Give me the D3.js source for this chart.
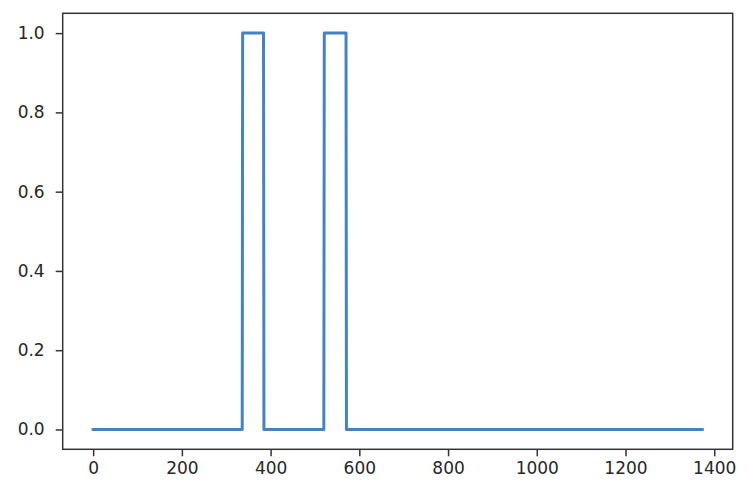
<!DOCTYPE html>
<html>
<head>
<meta charset="utf-8">
<script src="https://cdn.jsdelivr.net/npm/d3@7"></script>
<style>
  html, body { margin: 0; padding: 0; background: #fff; }
  svg { display: block; }
  .tick text { font-family: "DejaVu Sans", sans-serif; }
</style>
</head>
<body>
<svg id="chart" width="754" height="492"></svg>
<script>
// Data: sample index and binary signal value (step transitions)
const xValues = [0, 336, 337, 384, 385, 520, 521, 570, 571, 1373];
const yValues = [0, 0, 1, 1, 0, 0, 1, 1, 0, 0];
const xTicks = [0, 200, 400, 600, 800, 1000, 1200, 1400];
const yTicks = [0.0, 0.2, 0.4, 0.6, 0.8, 1.0];

const W = 754, H = 492;
const margin = { left: 62.7, right: W - 732.7, top: 13.3, bottom: H - 449.3 };
const svg = d3.select("#chart");

const xMin = d3.min(xValues), xMax = d3.max(xValues);
const yMin = d3.min(yValues), yMax = d3.max(yValues);
const xPad = (xMax - xMin) * 0.05, yPad = (yMax - yMin) * 0.05;

const x = d3.scaleLinear().domain([xMin - xPad, xMax + xPad]).range([margin.left, W - margin.right]);
const y = d3.scaleLinear().domain([yMin - yPad, yMax + yPad]).range([H - margin.bottom, margin.top]);

const data = xValues.map((v, i) => [v, yValues[i]]);

// line
svg.append("path")
  .datum(data)
  .attr("fill", "none")
  .attr("stroke", "#4582c0")
  .attr("stroke-width", 3)
  .attr("stroke-linejoin", "round")
  .attr("stroke-linecap", "square")
  .attr("d", d3.line().x(d => x(d[0])).y(d => y(d[1])));

// axes
const xAxis = d3.axisBottom(x).tickValues(xTicks).tickFormat(d3.format("d")).tickSize(7).tickPadding(6);
const yAxis = d3.axisLeft(y).tickValues(yTicks).tickFormat(d3.format(".1f")).tickSize(7).tickPadding(11);

const gx = svg.append("g").attr("transform", `translate(0,${H - margin.bottom})`).call(xAxis);
const gy = svg.append("g").attr("transform", `translate(${margin.left},0)`).call(yAxis);
[gx, gy].forEach(g => {
  g.select(".domain").remove();
  g.selectAll(".tick line").attr("stroke", "#333").attr("stroke-width", 1.5);
  g.selectAll(".tick text").attr("fill", "#262626").style("font-size", "17px");
});

// frame (spines)
svg.append("rect")
  .attr("x", margin.left).attr("y", margin.top)
  .attr("width", W - margin.left - margin.right)
  .attr("height", H - margin.top - margin.bottom)
  .attr("fill", "none").attr("stroke", "#333").attr("stroke-width", 1.5);
</script>
</body>
</html>
